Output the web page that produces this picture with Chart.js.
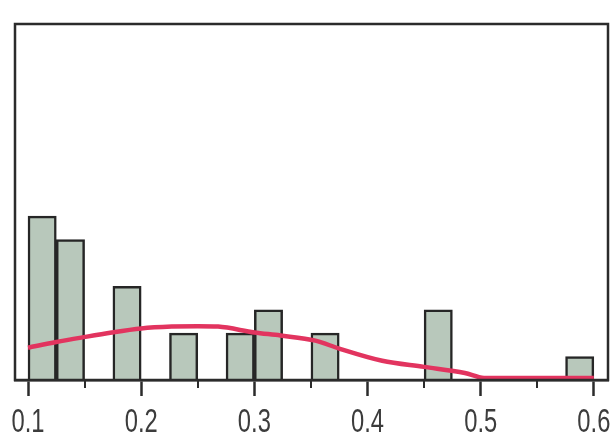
<!DOCTYPE html>
<html>
<head>
<meta charset="utf-8">
<script src="https://cdn.jsdelivr.net/npm/chart.js@4/dist/chart.umd.min.js"></script>
<style>
  html, body { margin: 0; padding: 0; background: #ffffff; }
  #wrap { width: 616px; height: 438px; position: relative; }
</style>
</head>
<body>
<div id="wrap"><canvas id="chart" width="616" height="438"></canvas></div>
<script>
// Histogram bins (left edges, width 0.025) and counts
const binWidth = 0.025;
const binStarts = [0.100, 0.125, 0.150, 0.175, 0.200, 0.225, 0.250, 0.275, 0.300, 0.325,
                   0.350, 0.375, 0.400, 0.425, 0.450, 0.475, 0.500, 0.525, 0.550, 0.575];
const binCounts = [7, 6, 0, 4, 0, 2, 0, 2, 3, 0,
                   2, 0, 0, 0, 3, 0, 0, 0, 0, 1];

// Smoothed density curve, in count units
const curveX = [0.100, 0.125, 0.147, 0.174, 0.200, 0.227, 0.250, 0.268, 0.300, 0.323,
                0.354, 0.375, 0.413, 0.450, 0.486, 0.503, 0.544, 0.600];
const curveY = [1.38, 1.62, 1.81, 2.03, 2.20, 2.28, 2.30, 2.28, 2.03, 1.90,
                1.68, 1.34, 0.82, 0.56, 0.30, 0.09, 0.09, 0.09];

// Axis ticks
const majorTicks = [0.1, 0.2, 0.3, 0.4, 0.5, 0.6];
const tickLabels = ['0.1', '0.2', '0.3', '0.4', '0.5', '0.6'];
const minorTicks = [0.15, 0.25, 0.35, 0.45, 0.55];

const barPoints = binStarts.map((s, i) => ({ x: s + binWidth / 2, y: binCounts[i] }));
const linePoints = curveX.map((x, i) => ({ x: x, y: curveY[i] }));

// Box frame, short minor ticks and condensed tick labels
const frameAndLabels = {
  id: 'frameAndLabels',
  afterDraw(chart) {
    const { ctx, chartArea, scales } = chart;
    ctx.save();
    ctx.strokeStyle = '#2b2b2b';
    ctx.lineWidth = 2.5;
    ctx.strokeRect(chartArea.left, chartArea.top,
                   chartArea.right - chartArea.left, chartArea.bottom - chartArea.top);
    ctx.lineWidth = 2;
    ctx.beginPath();
    minorTicks.forEach(v => {
      const px = Math.round(scales.x.getPixelForValue(v));
      ctx.moveTo(px, chartArea.bottom);
      ctx.lineTo(px, chartArea.bottom + 8);
    });
    ctx.stroke();

    ctx.fillStyle = '#3c3c3c';
    ctx.font = "33px 'Liberation Sans', Arial, sans-serif";
    ctx.textAlign = 'center';
    ctx.textBaseline = 'alphabetic';
    majorTicks.forEach((v, i) => {
      const px = scales.x.getPixelForValue(v);
      ctx.save();
      ctx.translate(px, 432);
      ctx.scale(0.72, 1);
      ctx.fillText(tickLabels[i], 0, 0);
      ctx.restore();
    });
    ctx.restore();
  }
};

new Chart(document.getElementById('chart'), {
  type: 'bar',
  data: {
    datasets: [
      {
        type: 'line',
        data: linePoints,
        borderColor: '#e2345f',
        borderWidth: 4.5,
        pointRadius: 0,
        fill: false,
        cubicInterpolationMode: 'monotone',
        order: 0
      },
      {
        type: 'bar',
        data: barPoints,
        backgroundColor: '#b8c8bb',
        borderColor: '#262626',
        borderWidth: 2.5,
        borderSkipped: 'start',
        barPercentage: 1.0,
        categoryPercentage: 1.0,
        order: 1
      }
    ]
  },
  options: {
    responsive: false,
    animation: false,
    layout: { padding: { left: 15, top: 24, right: 8, bottom: 42 } },
    plugins: { legend: { display: false }, tooltip: { enabled: false } },
    scales: {
      x: {
        type: 'linear',
        offset: false,
        min: 0.0885,
        max: 0.6125,
        afterBuildTicks(scale) {
          scale.ticks = majorTicks.map(v => ({ value: v }));
        },
        ticks: { display: false },
        grid: {
          display: true,
          offset: false,
          drawOnChartArea: false,
          drawTicks: true,
          tickLength: 16,
          tickWidth: 2.5,
          tickColor: '#2b2b2b'
        },
        border: { display: true, color: '#2b2b2b', width: 2.5 }
      },
      y: {
        display: false,
        min: 0,
        max: 15.2
      }
    }
  },
  plugins: [frameAndLabels]
});
</script>
</body>
</html>
